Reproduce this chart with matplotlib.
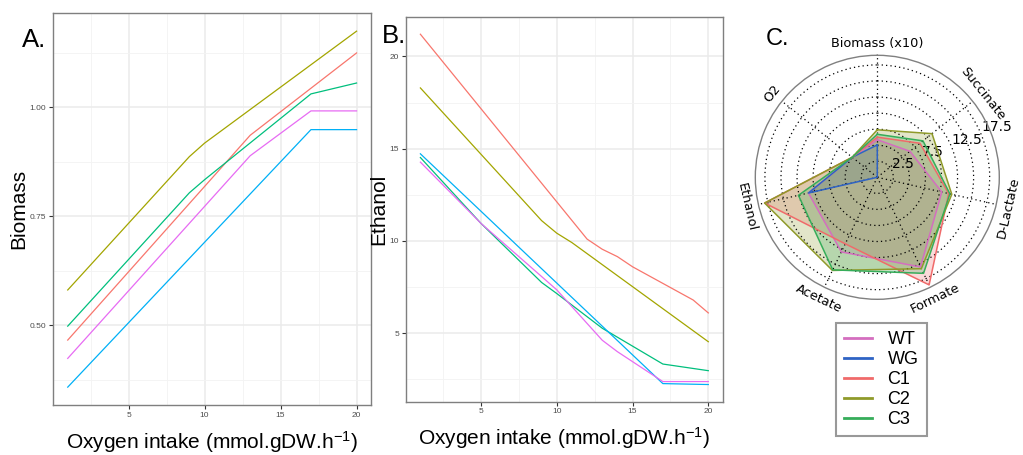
import numpy as np
import matplotlib
matplotlib.use('Agg')
import matplotlib.pyplot as plt
from matplotlib.lines import Line2D

# ---------------- data ----------------
strains = ['WT', 'WG', 'C1', 'C2', 'C3']

# Panel A: biomass vs oxygen intake (breakpoints of each curve)
bio_x_wt = [1, 13, 17, 20]
bio_y_wt = [0.424, 0.889, 0.992, 0.992]
bio_x_wg = [1, 17, 20]
bio_y_wg = [0.358, 0.949, 0.949]
bio_x_c1 = [1, 13, 20]
bio_y_c1 = [0.466, 0.936, 1.125]
bio_x_c2 = [1, 9, 10, 20]
bio_y_c2 = [0.581, 0.887, 0.918, 1.175]
bio_x_c3 = [1, 9, 10, 17, 20]
bio_y_c3 = [0.498, 0.804, 0.834, 1.031, 1.056]

# Panel B: ethanol vs oxygen intake
eth_x_wt = [1, 5, 10, 13, 14, 17, 20]
eth_y_wt = [14.27, 10.95, 7.35, 4.62, 4.0, 2.38, 2.38]
eth_x_wg = [1, 17, 20]
eth_y_wg = [14.72, 2.27, 2.22]
eth_x_c1 = [1, 12, 13, 14, 15, 17, 19, 20]
eth_y_c1 = [21.2, 10.1, 9.55, 9.15, 8.6, 7.7, 6.8, 6.1]
eth_x_c2 = [1, 9, 10, 11, 20]
eth_y_c2 = [18.29, 11.1, 10.42, 9.91, 4.54]
eth_x_c3 = [1, 5, 9, 10, 13, 17, 20]
eth_y_c3 = [14.52, 10.95, 7.75, 7.15, 5.27, 3.33, 2.97]

# Panel C: radar (O2 intake = 5)
radar_axes = ['Biomass (x10)', 'Succinate', 'D-Lactate', 'Formate',
              'Acetate', 'Ethanol', 'O2']
radar_wt = [5.85, 6.5, 10.3, 15.5, 12.9, 11.0, 5.0]
radar_wg = [5.05, 0.0, 0.0, 0.0, 0.0, 11.0, 5.0]
radar_c1 = [6.25, 8.5, 11.4, 18.6, 11.5, 18.0, 5.0]
radar_c2 = [7.4, 10.9, 11.9, 15.8, 16.1, 18.0, 5.0]
radar_c3 = [6.7, 9.1, 11.6, 16.6, 16.0, 12.6, 5.0]
radar_rticks = [2.5, 5, 7.5, 10, 12.5, 15, 17.5]
radar_rlabels = ['2.5', '', '7.5', '', '12.5', '', '17.5']

gg_colors = {'WT': '#E76BF3', 'WG': '#00B0F6', 'C1': '#F8766D',
             'C2': '#A3A500', 'C3': '#00BF7D'}
radar_colors = {'WT': '#d46ebf', 'WG': '#2f63c4', 'C1': '#f06a6a',
                'C2': '#8f9a2a', 'C3': '#36ad5a'}

plt.rcParams['font.family'] = ['Liberation Sans', 'DejaVu Sans']
plt.rcParams['mathtext.default'] = 'regular'

W, H = 1023, 455
fig = plt.figure(figsize=(W / 100, H / 100), dpi=100)


def fig_rect(l, t, r, b):
    return [l / W, 1 - b / H, (r - l) / W, (b - t) / H]


def style_gg(ax):
    ax.set_facecolor('white')
    for s in ax.spines.values():
        s.set_color('#7f7f7f')
        s.set_linewidth(1.0)
    ax.grid(True, which='major', color='#ebebeb', lw=1.1)
    ax.grid(True, which='minor', color='#f3f3f3', lw=0.6)
    ax.set_axisbelow(True)
    ax.tick_params(which='major', length=3, width=0.8, color='#333333',
                   labelsize=6, labelcolor='#4d4d4d', pad=2)
    ax.tick_params(which='minor', length=0)


xlabel_txt = 'Oxygen intake (mmol.gDW.h$^{-1}$)'

# ---------------- Panel A ----------------
axA = fig.add_axes(fig_rect(53.3, 13.3, 371, 405))
seriesA = [('C1', bio_x_c1, bio_y_c1), ('C2', bio_x_c2, bio_y_c2),
           ('C3', bio_x_c3, bio_y_c3), ('WG', bio_x_wg, bio_y_wg),
           ('WT', bio_x_wt, bio_y_wt)]
for name, xs, ys in seriesA:
    axA.plot(xs, ys, color=gg_colors[name], lw=0.9)
axA.set_xlim(0.05, 20.95)
axA.set_ylim(0.317, 1.216)
axA.set_xticks([5, 10, 15, 20])
axA.set_xticks([2.5, 7.5, 12.5, 17.5], minor=True)
axA.set_yticks([0.50, 0.75, 1.00])
axA.set_yticklabels(['0.50', '0.75', '1.00'])
axA.set_yticks([0.375, 0.625, 0.875, 1.125], minor=True)
style_gg(axA)
axA.set_xlabel(xlabel_txt, fontsize=15, labelpad=7)
axA.set_ylabel('Biomass', fontsize=15, labelpad=1)

# ---------------- Panel B ----------------
axB = fig.add_axes(fig_rect(406, 16.7, 722.7, 401.5))
seriesB = [('C1', eth_x_c1, eth_y_c1), ('C2', eth_x_c2, eth_y_c2),
           ('C3', eth_x_c3, eth_y_c3), ('WG', eth_x_wg, eth_y_wg),
           ('WT', eth_x_wt, eth_y_wt)]
for name, xs, ys in seriesB:
    axB.plot(xs, ys, color=gg_colors[name], lw=0.9)
axB.set_xlim(0.05, 20.95)
axB.set_ylim(1.3, 22.15)
axB.set_xticks([5, 10, 15, 20])
axB.set_xticks([2.5, 7.5, 12.5, 17.5], minor=True)
axB.set_yticks([5, 10, 15, 20])
axB.set_yticks([2.5, 7.5, 12.5, 17.5], minor=True)
style_gg(axB)
axB.set_xlabel(xlabel_txt, fontsize=15, labelpad=7)
axB.set_ylabel('Ethanol', fontsize=15, labelpad=1)

# ---------------- Panel C (radar) ----------------
cx, cy, R = 877.3, 177.3, 122
axC = fig.add_axes(fig_rect(cx - R, cy - R, cx + R, cy + R), projection='polar')
angles = np.linspace(0, 2 * np.pi, len(radar_axes), endpoint=False)
axC.set_theta_offset(np.pi / 2)
axC.set_theta_direction(-1)
radar_series = [('WT', radar_wt), ('WG', radar_wg), ('C1', radar_c1),
                ('C2', radar_c2), ('C3', radar_c3)]
ang_closed = list(angles) + [angles[0]]
for name, vals in radar_series:
    v = list(vals) + [vals[0]]
    axC.fill(ang_closed, v, color=radar_colors[name], alpha=0.25, lw=0)
    axC.plot(ang_closed, v, color=radar_colors[name], lw=1.1)
axC.set_ylim(0, 19)
axC.set_thetagrids(np.degrees(angles), labels=[''] * len(angles))
axC.set_rgrids(radar_rticks, labels=radar_rlabels, angle=67.5,
               fontsize=10, family='DejaVu Sans')
axC.grid(True, color='k', linestyle=(0, (1, 2.5)), lw=0.9)
axC.spines['polar'].set_color('#808080')
axC.spines['polar'].set_linewidth(1.0)
for ang, lab in zip(angles, radar_axes):
    screen = 90 - np.degrees(ang)
    rot = screen - 90
    while rot <= -90:
        rot += 180
    while rot > 90:
        rot -= 180
    axC.text(ang, 19 * 1.10, lab, rotation=rot, rotation_mode='anchor',
             ha='center', va='center', fontsize=9.3, family='DejaVu Sans')

# legend
handles = [Line2D([], [], color=radar_colors[s], lw=2) for s in strains]
leg = fig.legend(handles, strains, loc='upper left',
                 bbox_to_anchor=(836 / W, 1 - 322.7 / H),
                 bbox_transform=fig.transFigure, borderaxespad=0,
                 frameon=True, fancybox=False, edgecolor='#808080',
                 prop=dict(family='Liberation Sans', size=13),
                 labelspacing=0.17, handlelength=1.55, handletextpad=0.85,
                 borderpad=0.45)
leg.get_frame().set_linewidth(1.5)

# panel letters
fig.text(22 / W, 1 - 46.7 / H, 'A.', fontsize=18.5, va='baseline')
fig.text(382 / W, 1 - 43.3 / H, 'B.', fontsize=18.5, va='baseline')
fig.text(766 / W, 1 - 45 / H, 'C.', fontsize=17, va='baseline')

fig.savefig('out.png', dpi=100)
